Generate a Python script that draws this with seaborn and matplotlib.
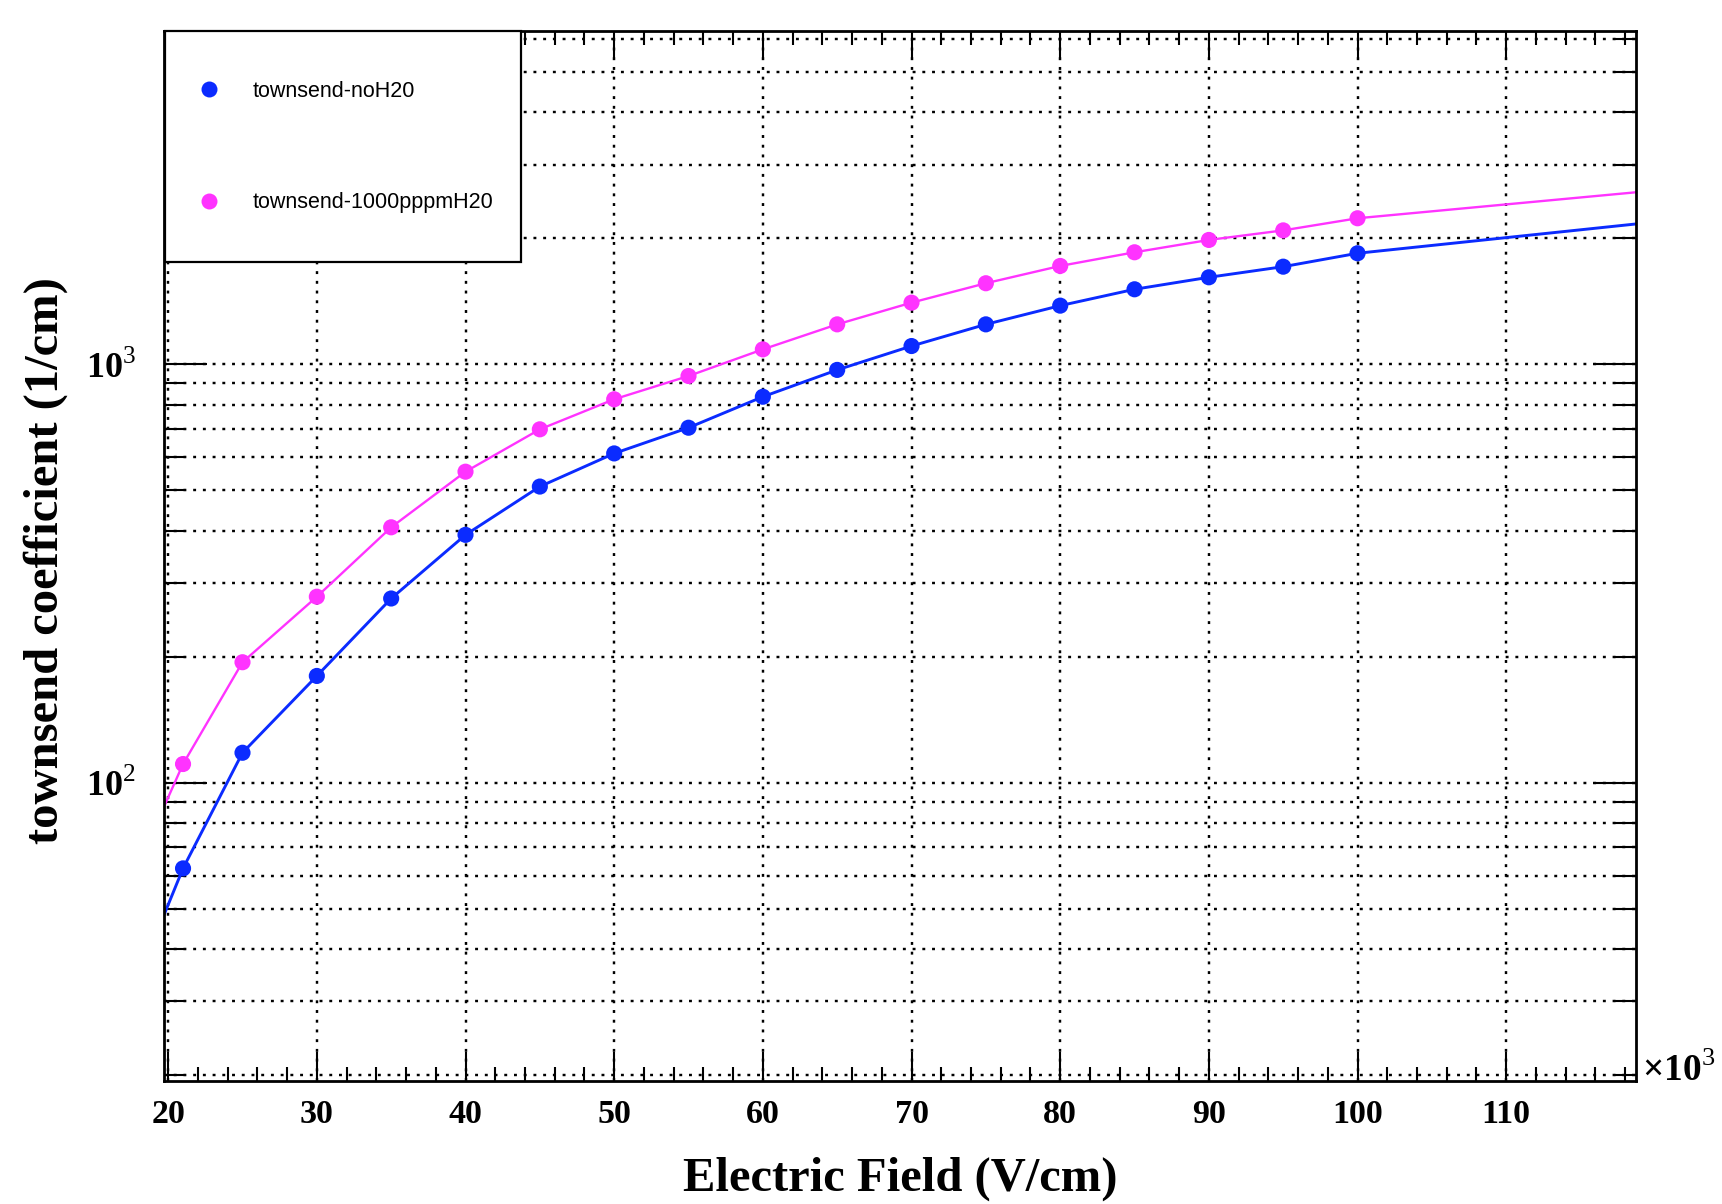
import matplotlib
matplotlib.use('Agg')
import pandas as pd
import matplotlib.pyplot as plt
import seaborn as sns
from matplotlib.ticker import FixedLocator, FixedFormatter, MultipleLocator, LogLocator, NullFormatter
from matplotlib.patches import Rectangle
from matplotlib.lines import Line2D

# Electric field in units of 10^3 V/cm, townsend coefficient in 1/cm
field = [21, 25, 30, 35, 40, 45, 50, 55, 60, 65, 70, 75, 80, 85, 90, 95, 100]
alpha_noh2o = [62.4, 117.9, 179.9, 275.5, 391, 510, 612, 705, 836, 969,
               1105, 1245, 1380, 1510, 1613, 1710, 1841]
alpha_h2o = [110.8, 194, 278.2, 407.6, 553.5, 698.8, 824.5, 937, 1085, 1245,
             1403, 1561, 1717, 1851, 1981, 2088, 2232]

# where the drawn curves run into the frame
field_ends = [19.72, 118.73]
noh2o_ends = [48.3, 2163]
h2o_ends = [87.6, 2575]

labels = ['townsend-noH20', 'townsend-1000pppmH20']
colors = ['#0b2bff', '#ff33ff']

xticks = [20, 30, 40, 50, 60, 70, 80, 90, 100, 110]
yticks = [100, 1000]
ytick_labels = [r'$\mathbf{10}^{2}$', r'$\mathbf{10}^{3}$']

sns.set_style('ticks')
plt.rcParams['font.family'] = 'Liberation Serif'
plt.rcParams['mathtext.fontset'] = 'custom'
plt.rcParams['mathtext.rm'] = 'Liberation Serif'
plt.rcParams['mathtext.bf'] = 'Liberation Serif:bold'
for key in ['text.color', 'axes.labelcolor', 'xtick.color', 'ytick.color', 'axes.edgecolor']:
    plt.rcParams[key] = 'black'

# tables for seaborn
pts = pd.DataFrame({
    'field': field + field,
    'alpha': alpha_noh2o + alpha_h2o,
    'series': [labels[0]] * len(field) + [labels[1]] * len(field),
})
curves = {
    labels[0]: pd.DataFrame({'field': [field_ends[0]] + field + [field_ends[1]],
                             'alpha': [noh2o_ends[0]] + alpha_noh2o + [noh2o_ends[1]]}),
    labels[1]: pd.DataFrame({'field': [field_ends[0]] + field + [field_ends[1]],
                             'alpha': [h2o_ends[0]] + alpha_h2o + [h2o_ends[1]]}),
}

W, H = 1722, 1204
fig = plt.figure(figsize=(W / 100, H / 100), dpi=100)
ax = fig.add_axes([164 / W, 1 - 1081 / H, (1636 - 164) / W, (1081 - 31) / H])
ax.set_yscale('log')

# curves, then the points on top
for lab, col, lw in zip(labels, colors, [2.1, 1.7]):
    sns.lineplot(data=curves[lab], x='field', y='alpha', color=col, linewidth=lw,
                 estimator=None, sort=True, ax=ax, zorder=2)
sns.scatterplot(data=pts, x='field', y='alpha', hue='series',
                palette=dict(zip(labels, colors)), s=135, linewidth=0,
                legend=False, ax=ax, zorder=3)

ax.set_xlim(field_ends[0], field_ends[1])
ax.set_ylim(19.37, 6254)

# axis ticks in ROOT style
ax.xaxis.set_major_locator(FixedLocator(xticks))
ax.set_xticklabels([str(t) for t in xticks])
ax.xaxis.set_minor_locator(MultipleLocator(2))
ax.yaxis.set_major_locator(FixedLocator(yticks))
ax.yaxis.set_major_formatter(FixedFormatter(ytick_labels))
ax.yaxis.set_minor_locator(LogLocator(base=10, subs=range(2, 10), numticks=30))
ax.yaxis.set_minor_formatter(NullFormatter())

ax.tick_params(axis='x', which='major', direction='in', length=21, width=1.5,
               top=True, labelsize=24.5, pad=13)
ax.tick_params(axis='x', which='minor', direction='in', length=10, width=1.5, top=True)
ax.tick_params(axis='y', which='major', direction='in', length=31, width=1.5,
               right=True, labelsize=26, pad=20)
ax.tick_params(axis='y', which='minor', direction='in', length=16, width=1.5, right=True)
for t in ax.get_xticklabels():
    t.set_fontweight('bold')

# dotted grid
dots = (0, (1.2, 2.8))
ax.grid(True, which='major', axis='x', color='black', linestyle=dots, linewidth=1.75)
ax.grid(True, which='both', axis='y', color='black', linestyle=dots, linewidth=1.75)
ax.set_axisbelow(True)

for sp in ax.spines.values():
    sp.set_linewidth(2.0)
    sp.set_color('black')

ax.set_xlabel('Electric Field (V/cm)', fontsize=35, fontweight='bold', va='baseline')
ax.xaxis.set_label_coords(0.5, (1081 - 1191) / 1050)
ax.set_ylabel('townsend coefficient (1/cm)', fontsize=35, fontweight='bold', va='center')
ax.yaxis.set_label_coords((46 - 164) / 1472, 0.496)

fig.text(1642 / W, 1 - 1081 / H, r'$\mathbf{\times 10}^{3}$', ha='left', va='baseline',
         fontsize=27)

# legend box
ax.add_patch(Rectangle((164.7 / W, 1 - 262.5 / H), 355.8 / W, 231.8 / H,
                       transform=fig.transFigure, facecolor='white', edgecolor='black',
                       linewidth=1.6, zorder=4, clip_on=False))
handles = [Line2D([], [], linestyle='none', marker='o', markersize=11.5,
                  markerfacecolor=c, markeredgewidth=0) for c in colors]
leg = ax.legend(handles, labels, loc='center left',
                bbox_to_anchor=(197.5 / W, 1 - 147 / H), bbox_transform=fig.transFigure,
                frameon=False, borderpad=0, borderaxespad=0, handlelength=1.05,
                handletextpad=1.5, labelspacing=4.2,
                prop={'family': 'Liberation Sans', 'size': 15.5, 'weight': 'normal'})
leg.set_zorder(5)

fig.savefig('out.png', dpi=100)
